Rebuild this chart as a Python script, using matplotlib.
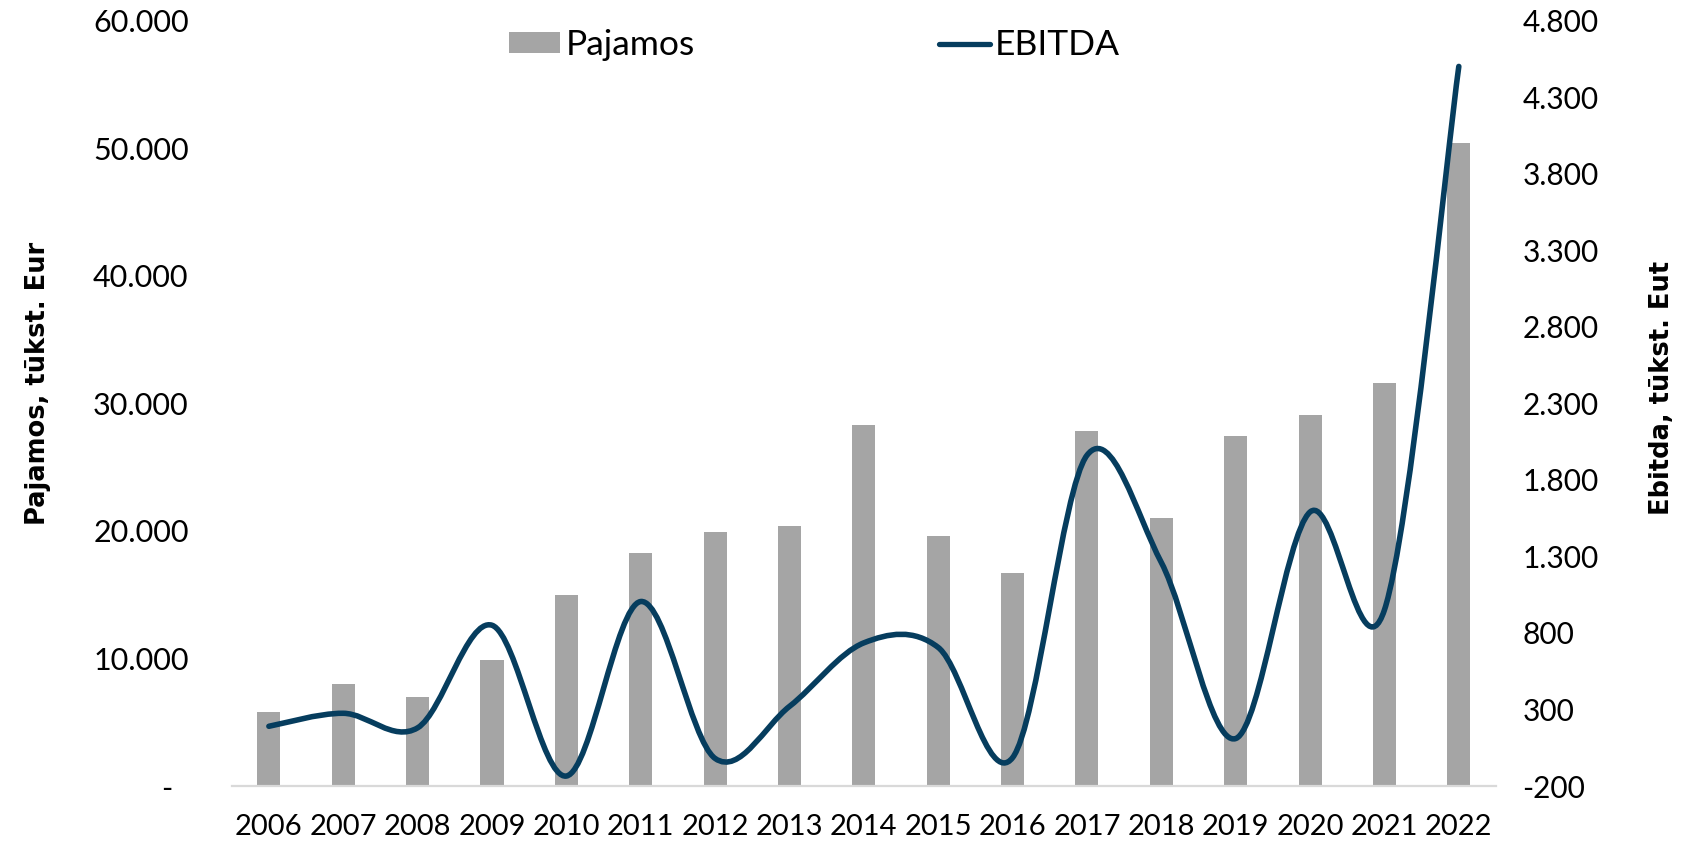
import numpy as np
import matplotlib
matplotlib.use('Agg')
import matplotlib.pyplot as plt
from matplotlib.path import Path
from matplotlib.patches import PathPatch, Patch
from matplotlib.lines import Line2D
from matplotlib.ticker import FuncFormatter

plt.rcParams['font.family'] = ['Lato', 'DejaVu Sans']

# duomenys (tūkst. Eur)
metai = [str(m) for m in range(2006, 2023)]
pajamos = [5800, 8000, 7000, 9900, 15000, 18300, 19900, 20400, 28300,
           19600, 16700, 27800, 21000, 27400, 29100, 31600, 50400]
ebitda = [190, 275, 180, 850, -135, 1005, -20, 320, 735,
          705, -15, 1960, 1260, 110, 1590, 950, 4500]
kairės_ašies_žymos = [0, 10000, 20000, 30000, 40000, 50000, 60000]
dešinės_ašies_žymos = [-200, 300, 800, 1300, 1800, 2300, 2800, 3300, 3800, 4300, 4800]

BAR_COLOR = '#A5A5A5'
LINE_COLOR = '#063D5E'


def excel_smooth(xs, ys, k=1/6):
    # kreive kaip Excel "smoothed line" (bezier per taskus)
    pts = np.column_stack([xs, ys]).astype(float)
    n = len(pts)
    verts = [pts[0]]
    codes = [Path.MOVETO]
    for i in range(n - 1):
        p0 = pts[i - 1] if i > 0 else pts[i]
        p1 = pts[i]
        p2 = pts[i + 1]
        p3 = pts[i + 2] if i + 2 < n else pts[i + 1]
        verts += [p1 + (p2 - p0) * k, p2 - (p3 - p1) * k, p2]
        codes += [Path.CURVE4] * 3
    return Path(verts, codes)


def taskas(v):
    return f"{int(round(v)):,}".replace(',', '.')


def fmt_kaire(v, pos):
    if abs(v) < 1e-9:
        return '-  '
    return taskas(v)


W, H = 1706, 842
fig = plt.figure(figsize=(W / 100, H / 100), dpi=100)
ax1 = fig.add_axes([231.7 / W, 1 - 786 / H, (1496 - 231.7) / W, (786 - 20.5) / H])

x = np.arange(len(metai))
ax1.bar(x, pajamos, width=0.31, color=BAR_COLOR, zorder=2)
ax1.set_xlim(-0.5, len(metai) - 0.5)
ax1.set_ylim(0, 60000)
ax1.set_yticks(kairės_ašies_žymos)
ax1.yaxis.set_major_formatter(FuncFormatter(fmt_kaire))
ax1.set_xticks(x)
ax1.set_xticklabels(metai)
ax1.tick_params(axis='x', length=0, pad=20, labelsize=21)
ax1.tick_params(axis='y', length=0, pad=31, labelsize=22)
for s in ['top', 'left', 'right']:
    ax1.spines[s].set_visible(False)
ax1.spines['bottom'].set_color('#D9D9D9')
ax1.spines['bottom'].set_linewidth(1.6)

ax2 = ax1.twinx()
ax2.set_ylim(-200, 4800)
ax2.set_yticks(dešinės_ašies_žymos)
ax2.yaxis.set_major_formatter(FuncFormatter(lambda v, p: taskas(v)))
ax2.tick_params(axis='y', length=0, pad=19, labelsize=21.5)
for s in ax2.spines.values():
    s.set_visible(False)

kreive = PathPatch(excel_smooth(x, ebitda), facecolor='none', edgecolor=LINE_COLOR,
                   lw=4, capstyle='round', joinstyle='round', zorder=3)
ax2.add_patch(kreive)

fig.text(38 / W, 1 - 383 / H, 'Pajamos, tūkst. Eur', rotation=90, ha='center', va='center',
         fontsize=18.5, fontweight='bold', family='DejaVu Sans')
fig.text(1662 / W, 1 - 388 / H, 'Ebitda, tūkst. Eut', rotation=90, ha='center', va='center',
         fontsize=18.5, fontweight='bold', family='DejaVu Sans')

handles = [Patch(facecolor=BAR_COLOR, edgecolor='none'),
           Line2D([], [], color=LINE_COLOR, lw=3.8, solid_capstyle='round')]
fig.legend(handles, ['Pajamos', 'EBITDA'], loc='center left',
           bbox_to_anchor=(509 / W, 1 - 45 / H), ncol=2, frameon=False,
           fontsize=25.5, borderpad=0, borderaxespad=0, handlelength=1.44,
           handleheight=0.52, handletextpad=0.15, columnspacing=6.9)

fig.savefig('out.png', dpi=100)
